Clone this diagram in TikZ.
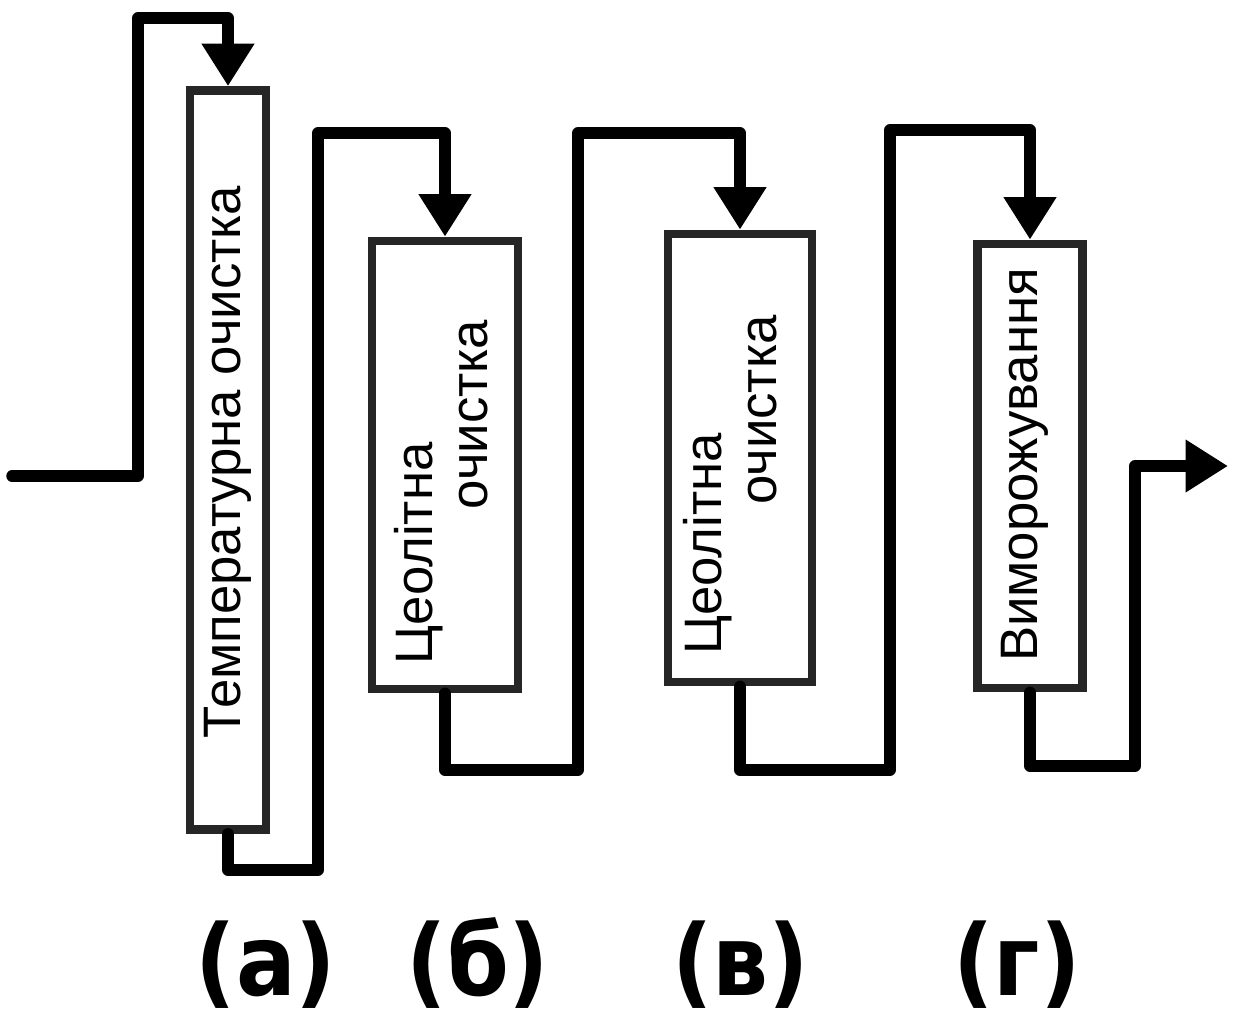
\documentclass[tikz,border=0pt]{standalone}
\usepackage{fontspec}
\setmainfont{Liberation Sans}
\newfontfamily\labelfont{DejaVu Sans Condensed}
\usetikzlibrary{arrows.meta}
\definecolor{boxgray}{HTML}{262626}

\begin{document}
\begin{tikzpicture}[x=0.02cm, y=-0.02cm,
  unit/.style={draw=boxgray, line width=5pt, inner sep=0pt},
  flow/.style={line width=6.5pt, line join=round, line cap=round},
  tip/.style={-{Triangle[width=1cm,length=0.85cm]}},
  caption/.style={font=\fontsize{30}{31.5}\selectfont, rotate=90, align=left, inner sep=0pt},
  tag/.style={font=\labelfont\bfseries\fontsize{56}{64}\selectfont, anchor=base}]
  \useasboundingbox (0,0) rectangle (1238,1018);

  % units
  \node[unit, minimum width=1.52cm, minimum height=14.78cm] (ta) at (228,460) {};
  \node[unit, minimum width=2.92cm, minimum height=8.96cm] (tb) at (445,465) {};
  \node[unit, minimum width=2.88cm, minimum height=8.96cm] (tc) at (740,458) {};
  \node[unit, minimum width=2.1cm, minimum height=8.88cm] (td) at (1030,466) {};

  \node[caption] (ta-txt) at (228,462) {Температурна очистка};
  \node[caption] (tb-txt) at (441,492) {Цеолітна\\\hspace*{3.1cm}очистка};
  \node[caption] (tc-txt) at (730,485) {Цеолітна\\\hspace*{3cm}очистка};
  \node[caption] (td-txt) at (1025,465) {Виморожування};

  % stage marks
  \node[tag] (a-tag) at (266,995) {(а)};
  \node[tag] (b-tag) at (478,995) {(б)};
  \node[tag] (c-tag) at (741,995) {(в)};
  \node[tag] (d-tag) at (1017,995) {(г)};

  % flow
  \coordinate (in) at (12,476);
  \coordinate (out) at (1228,466);
  \draw[flow,tip] (in) -| (138,18) -| (ta.north);
  \draw[flow,tip] (ta.south) |- (318,870) -- (318,133) -| (tb.north);
  \draw[flow,tip] (tb.south) |- (578,770) -- (578,133) -| (tc.north);
  \draw[flow,tip] (tc.south) |- (890,770) -- (890,130) -| (td.north);
  \draw[flow,tip] (td.south) |- (1135,766) -- (1135,466) -- (out);
\end{tikzpicture}
\end{document}
